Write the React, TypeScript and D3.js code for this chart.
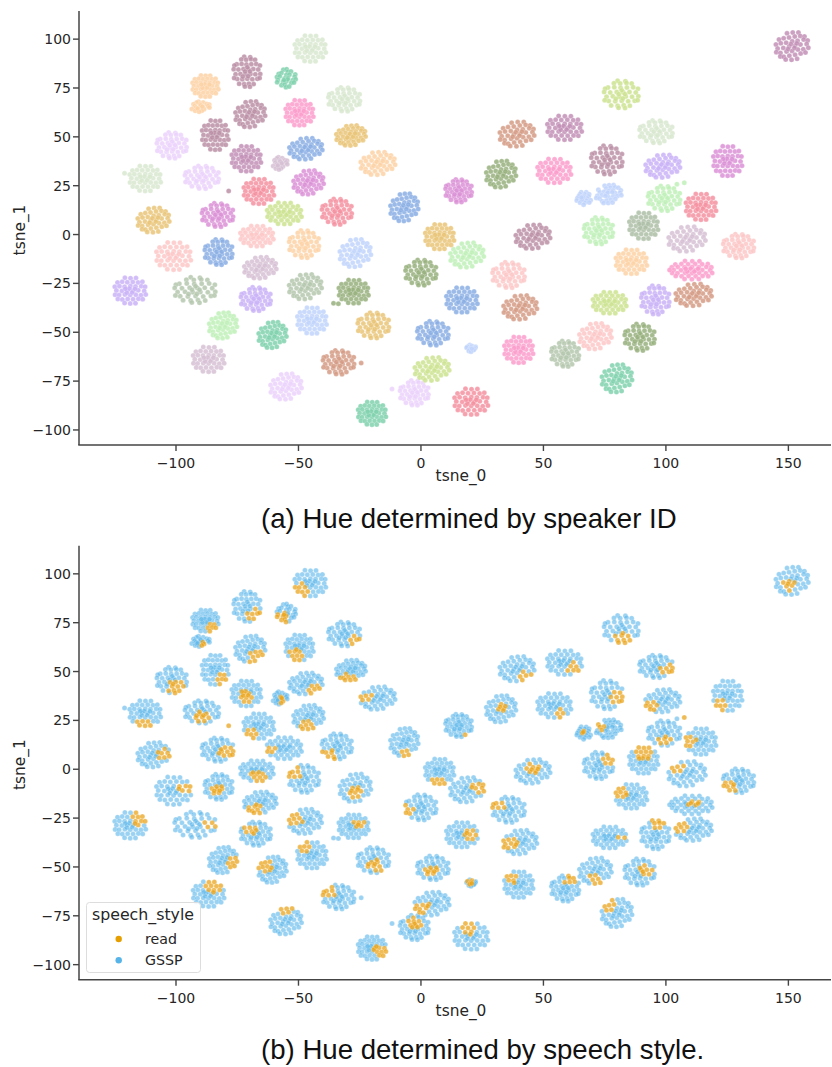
import React from "react";
import * as d3 from "d3";

// Values. Individual dots cannot all be read, so each cluster
// stores its centre, extent, colour and "read" patch, and its dots use a hand-typed layout.
const mauve = "#bb8fa6", plum = "#c28fb6", pink = "#fb9ccb", paleGreen = "#d8e7cf", teal = "#7fd1ad",
  peach = "#fdd2a6", gold = "#e9c477", lilac = "#ebd2fb", blue = "#8aaee4", dusty = "#d6c0d4",
  orchid = "#da90d6", salmon = "#f590a0", lime = "#cde390", blush = "#fdc7c7", sky = "#bfd3fc",
  violet = "#c9b2f7", sage = "#b4c7ad", olive = "#97b07d", mint = "#c0f0b9", rust = "#d59b85", grey = "#adbea6";

const centers: [number, number][] = [
  [-45.2,95.2],[-71,83.3],[-55,80],[-88,76],[-90,65.4],[-69.7,61.6],[-49.6,62.3],[-31.3,69.2],[-28.6,50.7],[-84,50.9],
  [-101.7,45.6],[-47,43.9],[-71.3,38.8],[-57.5,36.4],[-17.6,36.4],[-112.6,28.7],[-89.4,29.3],[-45.9,26.7],[-66.2,22.1],[-34.3,11.7],
  [-6.8,13.9],[-55.8,10.8],[-83,10],[-109.2,7.4],[-67,-0.8],[-47.7,-4.9],[-26.8,-9.5],[-101,-11],[-82.6,-9],[-65.6,-17],
  [-118.7,-28.7],[-92.2,-28.4],[-47.2,-26.7],[-27.5,-29.2],[-67.4,-33],[-80.8,-46.5],[-44.5,-44],[-19.4,-46.5],[-60.6,-51.4],[-86.7,-63.9],
  [-33.6,-65.4],[-55.1,-77.8],[-20,-91.5],[-2.7,-81],[4.5,-68.8],[20.5,-85.5],[4.9,-50.5],[20.5,-58.2],[16.7,-33.5],[0,-19.5],
  [18.8,-10.5],[7.6,-1.1],[35.8,-20.7],[40.5,-37.3],[39.9,-59],[58.9,-61],[71.2,-52],[77,-34.9],[95.7,-33.5],[111.3,-30.9],
  [110.6,-18.2],[89.3,-52.6],[80,-73.6],[85.9,-13.9],[129.7,-5.9],[108.6,-2.3],[90.9,4.5],[72.5,1.9],[45.7,-1.1],[114.3,14.2],
  [99.3,18.5],[76.6,20.7],[66.4,18.5],[15.4,22.4],[32.7,30.9],[54.4,32.6],[75.9,38.1],[98.7,35],[125.2,37.6],[96,52.6],
  [39.2,51.4],[58.6,54.6],[81.8,71.7],[151.5,96.4],
];

// Extent of each cluster's outer edge, dot size included.
const radii: [number, number][] = [
  [7.5,8],[6.8,8.9],[4.9,6],[6.4,6.8],[4.9,3.8],[7.2,8],[6.8,7.8],[7.9,7.3],[7.1,6.5],[6.5,8.9],
  [7.5,7.8],[7.9,6.8],[7.1,7.8],[4.1,4.4],[8.2,7.2],[7.5,7.8],[8.4,7],[7.3,7.5],[7.3,7.7],[7.5,7.7],
  [6.8,8.5],[8.2,6.8],[7.8,7.2],[7.6,7.7],[7.9,6.5],[7.5,8.2],[7.5,8.5],[8.2,8.4],[7,7.7],[7.7,6.8],
  [7.5,8],[9.9,7.7],[7.8,7.7],[7.2,7.3],[7.5,7.2],[6.8,8],[7.1,8],[7.8,7.7],[6.8,8],[7.5,7.7],
  [7.8,7.3],[7.5,8],[6.8,7.2],[7.2,7.5],[8.2,7.3],[8,8],[7.8,7.3],[2.9,3],[7.5,7.7],[7.7,7.7],
  [8,7.7],[7,7.7],[8,7.7],[8,7.5],[7,8],[7,7.7],[7.7,8],[8,6.8],[7.1,8.5],[8.5,7],
  [9.5,6],[7.5,8],[7.3,8.5],[7.5,7.5],[7.7,7.3],[8.7,7.7],[7,8],[7.3,8],[8.2,7.5],[7.3,8],
  [8,7.5],[6.3,6],[3.9,4.5],[6.7,7],[7.2,8.2],[8,7.5],[7.8,8.5],[8.2,7.2],[7,9],[8.2,7],
  [8.2,7.7],[8.2,7.5],[8.5,8.2],[7.8,8.5],
];

const hues: string[] = [
  paleGreen,mauve,teal,peach,peach,mauve,pink,paleGreen,gold,mauve,
  lilac,blue,plum,dusty,peach,paleGreen,lilac,orchid,salmon,salmon,
  blue,lime,orchid,gold,blush,peach,sky,blush,blue,dusty,
  violet,sage,sage,olive,violet,mint,sky,gold,teal,dusty,
  rust,lilac,teal,lilac,lime,salmon,blue,sky,blue,olive,
  mint,gold,blush,rust,pink,sage,blush,lime,violet,rust,
  pink,olive,teal,peach,blush,dusty,grey,mint,mauve,salmon,
  mint,sky,sky,orchid,olive,pink,mauve,violet,orchid,paleGreen,
  rust,plum,lime,plum,
];

// Where each cluster's "read" dots sit: centre (u, v) and radius, in units of the cluster's extent.
const readPatches: [number, number, number][] = [
  [-.65,-.55,.55],[.5,-.6,.5],[-.45,-.5,.65],[.55,-.6,.5],[.1,-.5,.4],[.4,-.65,.55],[-.25,-.55,.52],[.65,-.55,.47],[-.2,-.95,.65],[.5,-.65,.47],
  [.25,-.55,.55],[.55,-.55,.5],[-.1,-.3,.5],[.35,-.3,.55],[-.7,0,.45],[-.2,-.85,.55],[0,-.45,.5],[-.1,-.7,.47],[-.5,-.6,.47],[-.5,-.65,.5],
  [.1,-.8,.47],[-.7,-.25,.37],[.5,-.15,.47],[.65,0,.47],[.05,-.55,.5],[-.6,.4,.5],[0,-.35,.45],[.7,.2,.45],[-.1,-.3,.45],[-.35,-.6,.5],
  [.55,.5,.5],[.6,0,.35],[-.65,.1,.5],[.35,.2,.4],[-.4,.35,.45],[.65,-.15,.47],[-.5,.75,.5],[.15,-.45,.5],[-.5,.3,.5],[.3,.6,.5],
  [-.55,.4,.45],[0,.85,.5],[.6,-.25,.5],[0,.4,.5],[-.5,-.3,.47],[-.1,.65,.5],[-.1,-.25,.45],[-.15,0,.8],[.5,0,.4],[-.8,-.2,.4],
  [.7,.2,.45],[0,-.9,.55],[-.6,.4,.45],[-.65,-.05,.5],[-.5,.45,.47],[.3,.6,.4],[0,-.65,.47],[.75,0,.3],[.1,.8,.47],[-.7,.2,.45],
  [.05,.25,.35],[.4,.1,.45],[-.5,.6,.5],[-.65,.2,.5],[-.55,-.55,.47],[-.4,.45,.4],[0,.55,.55],[.6,.5,.45],[0,.25,.42],[-.7,0,.43],
  [0,-.6,.4],[-.6,.3,.47],[.1,.1,.35],[.75,-.8,.3],[.05,.1,.3],[.35,-.65,.4],[.65,-.15,.45],[-.7,-.4,.5],[-.55,-.7,.5],[.65,-.3,.47],
  [.4,-.65,.47],[.5,-.4,.45],[.1,-.65,.47],[-.25,-.3,.45],
];

// Three hand-typed dot layouts inside a unit disc.
const layoutA: [number, number][] = [
  [-.33,.97],[.02,.94],[.36,.95],[-.79,.61],[-.5,.66],[-.18,.63],[.16,.65],[.49,.62],[.76,.66],
  [-.96,.3],[-.67,.33],[-.35,.3],[.01,.34],[.33,.31],[.69,.33],[.93,.3],[-.86,.01],[-.52,-.02],[-.17,.02],[.18,-.01],[.5,.02],[.87,-.02],
  [-.94,-.31],[-.69,-.33],[-.33,-.3],[0,-.33],[.35,-.31],[.67,-.34],[.97,-.3],[-.77,-.63],[-.49,-.66],[-.16,-.63],[.18,-.65],[.51,-.62],[.78,-.65],
  [-.35,-.94],[0,-.97],[.33,-.95],[-.05,.16],[.12,-.14],[-.22,-.16],[.3,.14],[-.3,.14],
];
const layoutB: [number, number][] = [
  [-.2,1],[.22,.97],[-.4,.82],[-.06,.8],[.28,.83],[.56,.8],[-.72,.5],[-.38,.52],[-.04,.48],[.3,.5],[.64,.52],[-.88,.42],[.9,.42],
  [-.93,.17],[-.6,.15],[-.25,.18],[.1,.16],[.44,.18],[.78,.15],[-.8,-.16],[-.46,-.14],[-.11,-.17],[.24,-.15],[.58,-.17],[.92,-.14],
  [-.68,-.48],[-.33,-.5],[.02,-.47],[.37,-.5],[.72,-.47],[-.9,-.42],[.88,-.42],[-.55,-.8],[-.2,-.82],[.13,-.79],[.46,-.82],[-.15,-.98],[.2,-1],
  [.02,.3],[-.14,.02],[.2,.02],[.08,-.3],[-.3,-.32],
];
const layoutC: [number, number][] = [
  [-.3,.9],[.04,.95],[.38,.96],[-.78,.46],[-.5,.55],[-.18,.6],[.16,.68],[.49,.72],[.74,.68],
  [-.96,.12],[-.67,.2],[-.35,.24],[.01,.34],[.33,.38],[.69,.46],[.93,.4],[-.86,-.17],[-.52,-.12],[-.17,-.02],[.18,.03],[.5,.12],[.87,.15],
  [-.94,-.42],[-.69,-.47],[-.33,-.37],[0,-.33],[.35,-.24],[.67,-.21],[.97,-.11],[-.7,-.72],[-.49,-.75],[-.16,-.67],[.18,-.61],[.51,-.52],[.8,-.45],
  [-.38,-.94],[-.03,-.96],[.3,-.89],[-.07,.15],[.14,-.12],[-.24,-.2],[.28,.2],
];
const layouts = [layoutA, layoutB, layoutC];

// Dots that sit apart from their clusters: x, y, colour, read or not.
const strayX = [-78.5, -121, -35.7, -33.7, -24.4, 104.5, 107.5, -11.8, 101.5];
const strayY = [22.3, 31.4, -35.2, -35.4, -65.8, 25.8, 26.5, -79, -18.2];
const strayHue = [mauve, paleGreen, olive, olive, rust, mint, mint, lilac, pink];
const strayRead = [true, false, false, false, false, false, true, false, false];

const xTicks = [-100, -50, 0, 50, 100, 150];
const yTicks = [-100, -75, -50, -25, 0, 25, 50, 75, 100];
const readColor = "#e9a31a";
const gsspColor = "#56b4e9";
const minus = (v: number) => String(v).replace("-", "\u2212");
const tickFont = "'DejaVu Sans', sans-serif";
const captionFont = "'Liberation Sans', Arial, sans-serif";
const inkColor = "#262626";
const axisColor = "#444444";
const dotInsetX = 0.95;
const dotInsetY = 1.2;

type Dot = { x: number; y: number; hue: string; read: boolean };
const dots: Dot[] = [];
centers.forEach(([cx, cy], i) => {
  const [rx, ry] = radii[i];
  const [ru, rv, rr] = readPatches[i];
  const layout = layouts[i % 3];
  const area = rx * ry;
  const keep = layout.filter((_, k) =>
    area < 12 ? k % 3 === 0 : area < 24 ? k % 2 === 0 : area < 32 ? k % 3 !== 2 : area < 42 ? k % 5 !== 4 : true);
  keep.forEach(([u, v]) => {
    dots.push({
      x: cx + u * (rx - dotInsetX),
      y: cy + v * (ry - dotInsetY),
      hue: hues[i],
      read: Math.hypot(u - ru, v - rv) < rr,
    });
  });
});
strayX.forEach((x, i) => dots.push({ x, y: strayY[i], hue: strayHue[i], read: strayRead[i] }));

function Panel({ top, mode }: { top: number; mode: "id" | "style" }) {
  const x = d3.scaleLinear().domain([-139.6, 167.4]).range([79, 831]);
  const y = d3.scaleLinear().domain([-107.7, 114.4]).range([445 + top, 11 + top]);
  const ordered = mode === "style" ? [...dots.filter(d => !d.read), ...dots.filter(d => d.read)] : dots;
  return (
    <g>
      <g filter="url(#soft)">
        {ordered.map((d, i) => (
          <circle key={i} cx={x(d.x)} cy={y(d.y)} r={2.5}
            fill={mode === "id" ? d.hue : d.read ? readColor : gsspColor}
            fillOpacity={mode === "id" ? 0.85 : d.read ? 0.74 : 0.6}
            stroke="#fff" strokeWidth={0.3} strokeOpacity={0.7} />
        ))}
      </g>
      <line x1={79} x2={79} y1={y.range()[1]} y2={y.range()[0]} stroke={axisColor} strokeWidth={1.5} />
      <line x1={78.25} x2={831} y1={y.range()[0]} y2={y.range()[0]} stroke={axisColor} strokeWidth={1.5} />
      {xTicks.map(t => (
        <g key={t}>
          <line x1={x(t)} x2={x(t)} y1={445 + top} y2={451 + top} stroke={axisColor} strokeWidth={1.4} />
          <text x={x(t)} y={468 + top} textAnchor="middle" fontFamily={tickFont} fontSize={14} fill={inkColor}>{minus(t)}</text>
        </g>
      ))}
      {yTicks.map(t => (
        <g key={t}>
          <line x1={73} x2={79} y1={y(t)} y2={y(t)} stroke={axisColor} strokeWidth={1.4} />
          <text x={71} y={y(t) + 5} textAnchor="end" fontFamily={tickFont} fontSize={14} fill={inkColor}>{minus(t)}</text>
        </g>
      ))}
      <text x={461} y={481 + top} textAnchor="middle" fontFamily={tickFont} fontSize={15.4} fill={inkColor}>tsne_0</text>
      <text transform={`translate(25,${230 + top}) rotate(-90)`} textAnchor="middle" fontFamily={tickFont} fontSize={15.4} fill={inkColor}>tsne_1</text>
    </g>
  );
}

export default function App() {
  return (
    <svg width={832} height={1067} style={{ position: "absolute", left: 0, top: 0, display: "block", background: "#fff" }}>
      <defs>
        <filter id="soft" x="-5%" y="-5%" width="110%" height="110%">
          <feGaussianBlur stdDeviation={0.35} />
        </filter>
      </defs>
      <Panel top={0} mode="id" />
      <Panel top={534.7} mode="style" />
      <text x={261} y={528} fontFamily={captionFont} fontSize={27.6} fill="#111">(a) Hue determined by speaker ID</text>
      <g>
        <rect x={86.5} y={902.5} width={114} height={70} rx={3} fill="#fff" fillOpacity={0.85} stroke="#dddddd" strokeWidth={1} />
        <text x={143} y={920} textAnchor="middle" fontFamily={tickFont} fontSize={15.8} fill={inkColor}>speech_style</text>
        <circle cx={118.7} cy={939} r={3.2} fill="#e69f00" />
        <circle cx={118.7} cy={960.3} r={3.2} fill={gsspColor} />
        <text x={145} y={943.5} fontFamily={tickFont} fontSize={14.2} fill={inkColor}>read</text>
        <text x={145} y={965} fontFamily={tickFont} fontSize={14.2} fill={inkColor}>GSSP</text>
      </g>
      <text x={261} y={1059} fontFamily={captionFont} fontSize={27.6} fill="#111">(b) Hue determined by speech style.</text>
    </svg>
  );
}
